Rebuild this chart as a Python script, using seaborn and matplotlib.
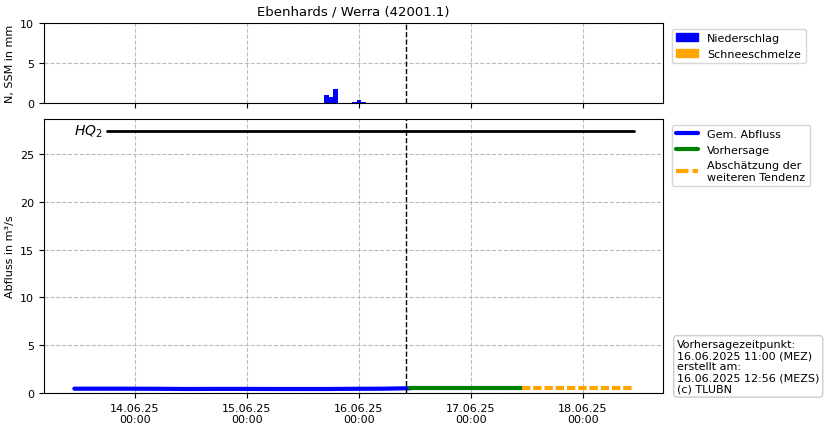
import pandas as pd
import numpy as np
import matplotlib
matplotlib.use("Agg")
import matplotlib.pyplot as plt
import matplotlib.dates as mdates
from matplotlib.patches import Patch
from matplotlib.lines import Line2D
import seaborn as sns

# niederschlag (hourly bars)
rain_times = ["2025-06-15 17:00", "2025-06-15 18:00", "2025-06-15 19:00",
              "2025-06-15 23:00", "2025-06-16 00:00", "2025-06-16 01:00"]
rain_mm = [1.0, 0.7, 1.75, 0.1, 0.35, 0.1]

# gemessener abfluss, 6-hourly
obs_times = pd.date_range("2025-06-13 11:00", "2025-06-16 11:00", freq="6h")
obs_q = [0.45, 0.45, 0.45, 0.44, 0.42, 0.43, 0.43, 0.42, 0.42, 0.42, 0.44, 0.45, 0.50]

fc_times = ["2025-06-16 11:00", "2025-06-17 11:00"]
fc_q = [0.50, 0.50]

trend_times = ["2025-06-17 11:00", "2025-06-18 11:00"]
trend_q = [0.50, 0.50]

hq2 = 27.4
hq2_start = "2025-06-13 18:00"
hq2_end = "2025-06-18 11:00"
forecast_time = pd.Timestamp("2025-06-16 10:00")

df_obs = pd.DataFrame({"t": obs_times, "q": obs_q})
df_fc = pd.DataFrame({"t": pd.to_datetime(fc_times), "q": fc_q})
df_tr = pd.DataFrame({"t": pd.to_datetime(trend_times), "q": trend_q})

sns.set_style("ticks", {"axes.edgecolor": "black", "text.color": "black",
                        "xtick.color": "black", "ytick.color": "black",
                        "axes.labelcolor": "black"})
plt.rcParams["font.family"] = ["DejaVu Sans"]

fig = plt.figure(figsize=(8.27, 4.31), dpi=100)
W, H = 827, 431
ax1 = fig.add_axes([44 / W, 1 - 104 / H, 619 / W, 80 / H])
ax2 = fig.add_axes([44 / W, 1 - 394 / H, 619 / W, 274 / H], sharex=ax1)

# top: precipitation
ax1.bar(pd.to_datetime(rain_times), rain_mm, width=1 / 24, align="center",
        color="blue", linewidth=0)
ax1.set_ylim(0, 10)
ax1.set_yticks([0, 5, 10])
ax1.set_ylabel("N, SSM in mm", fontsize=8)
ax1.set_title("Ebenhards / Werra (42001.1)", fontsize=9.5)
ax1.axvline(forecast_time, color="black", ls="--", lw=1)
ax1.grid(True, ls="--", color="#bbbbbb")
ax1.tick_params(labelbottom=False, labelsize=8)
ax1.legend(handles=[Patch(color="blue", label="Niederschlag"),
                    Patch(color="orange", label="Schneeschmelze")],
           loc="upper left", bbox_to_anchor=(1.005, 1.0), fontsize=8,
           handlelength=2.0)

# bottom: discharge
sns.lineplot(data=df_obs, x="t", y="q", ax=ax2, color="blue", lw=3)
sns.lineplot(data=df_fc, x="t", y="q", ax=ax2, color="green", lw=3)
sns.lineplot(data=df_tr, x="t", y="q", ax=ax2, color="orange", lw=3, ls=(0, (2, 0.7)))
ax2.plot(pd.to_datetime([hq2_start, hq2_end]), [hq2, hq2], color="black", lw=2)
ax2.text(pd.Timestamp("2025-06-13 11:00"), hq2, "$HQ_2$", fontsize=10, va="center", ha="left")
ax2.axvline(forecast_time, color="black", ls="--", lw=1)
ax2.set_ylim(0, hq2 * 1.046)
ax2.set_ylabel("Abfluss in m³/s", fontsize=8)
ax2.set_xlabel("")
ax2.grid(True, ls="--", color="#bbbbbb")
ax2.tick_params(labelsize=8)
ax2.set_xlim(pd.Timestamp("2025-06-13 04:30"), pd.Timestamp("2025-06-18 17:10"))
ax2.xaxis.set_major_locator(mdates.DayLocator())
ax2.xaxis.set_major_formatter(mdates.DateFormatter("%d.%m.%y\n%H:%M"))
for lab in ax2.get_xticklabels():
    lab.set_ha("center")
ax2.legend(handles=[Line2D([], [], color="blue", lw=3, label="Gem. Abfluss"),
                    Line2D([], [], color="green", lw=3, label="Vorhersage"),
                    Line2D([], [], color="orange", lw=3, ls=(0, (3, 1)),
                           label="Abschätzung der\nweiteren Tendenz")],
           loc="upper left", bbox_to_anchor=(1.005, 1.0), fontsize=8,
           handlelength=2.0)

fig.text(677 / W, 1 - 340 / H,
         "Vorhersagezeitpunkt:\n16.06.2025 11:00 (MEZ)\nerstellt am:\n16.06.2025 12:56 (MEZS)\n(c) TLUBN",
         fontsize=8, va="top", ha="left", linespacing=1.15,
         bbox=dict(boxstyle="round,pad=0.3", fc="white", ec="#cccccc"))

fig.savefig("out.png", dpi=100)
